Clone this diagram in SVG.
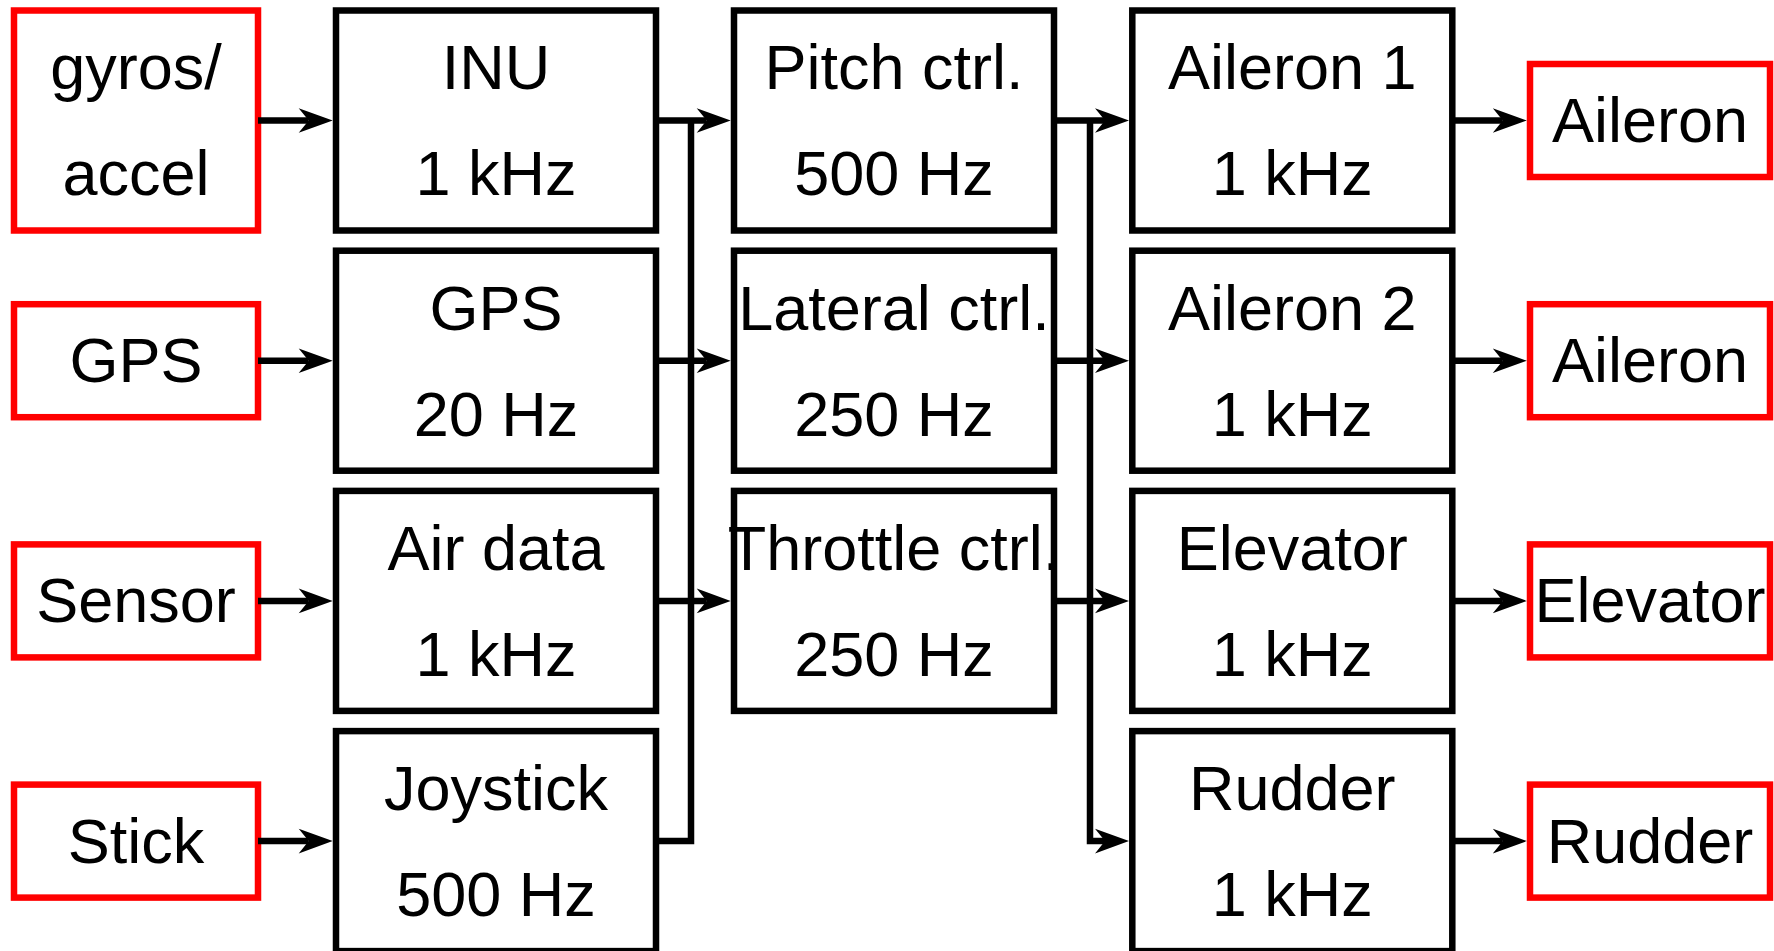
<svg xmlns="http://www.w3.org/2000/svg" width="1774" height="951" viewBox="0 0 1774 951">
<style>
.io{fill:#fff;stroke:#ff0000;stroke-width:6.5}
.blk{fill:#fff;stroke:#000;stroke-width:6.5}
.t{font-family:"Liberation Sans",Arial,sans-serif;font-size:63px;fill:#000;text-anchor:middle}
.c{fill:none;stroke:#000;stroke-width:6.5;stroke-linejoin:miter}
</style>
<defs>
<marker id="ah" markerUnits="userSpaceOnUse" markerWidth="40" markerHeight="30" refX="0" refY="0" orient="auto" overflow="visible">
<path d="M24,0 L-10,-12.3 L0,0 L-10,12.3 Z" fill="#000"/>
</marker>
</defs>
<rect width="1774" height="951" fill="#fff"/>

<g id="src-gyros"><rect class="io" x="14" y="10.5" width="244" height="220"/><text class="t" x="136" y="89.3">gyros/</text><text class="t" x="136" y="195.3">accel</text></g>
<g id="src-gps"><rect class="io" x="14" y="304.2" width="244" height="113"/><text class="t" x="136" y="382.2">GPS</text></g>
<g id="src-sensor"><rect class="io" x="14" y="544.4" width="244" height="113"/><text class="t" x="136" y="622.4">Sensor</text></g>
<g id="src-stick"><rect class="io" x="14" y="784.6" width="244" height="113"/><text class="t" x="136" y="862.6">Stick</text></g>

<g id="inu"><rect class="blk" x="336" y="10.5" width="320" height="220"/><text class="t" x="496" y="89.3">INU</text><text class="t" x="496" y="195.3">1 kHz</text></g>
<g id="gps"><rect class="blk" x="336" y="250.7" width="320" height="220"/><text class="t" x="496" y="329.5">GPS</text><text class="t" x="496" y="435.5">20 Hz</text></g>
<g id="airdata"><rect class="blk" x="336" y="490.9" width="320" height="220"/><text class="t" x="496" y="569.7">Air data</text><text class="t" x="496" y="675.7">1 kHz</text></g>
<g id="joystick"><rect class="blk" x="336" y="731.1" width="320" height="220"/><text class="t" x="496" y="809.9">Joystick</text><text class="t" x="496" y="915.9">500 Hz</text></g>

<g id="pitch"><rect class="blk" x="734" y="10.5" width="320" height="220"/><text class="t" x="894" y="89.3">Pitch ctrl.</text><text class="t" x="894" y="195.3">500 Hz</text></g>
<g id="lateral"><rect class="blk" x="734" y="250.7" width="320" height="220"/><text class="t" x="894" y="329.5">Lateral ctrl.</text><text class="t" x="894" y="435.5">250 Hz</text></g>
<g id="throttle"><rect class="blk" x="734" y="490.9" width="320" height="220"/><text class="t" x="894" y="569.7">Throttle ctrl.</text><text class="t" x="894" y="675.7">250 Hz</text></g>

<g id="aileron1"><rect class="blk" x="1132.3" y="10.5" width="320" height="220"/><text class="t" x="1292.3" y="89.3">Aileron 1</text><text class="t" x="1292.3" y="195.3">1 kHz</text></g>
<g id="aileron2"><rect class="blk" x="1132.3" y="250.7" width="320" height="220"/><text class="t" x="1292.3" y="329.5">Aileron 2</text><text class="t" x="1292.3" y="435.5">1 kHz</text></g>
<g id="elevator"><rect class="blk" x="1132.3" y="490.9" width="320" height="220"/><text class="t" x="1292.3" y="569.7">Elevator</text><text class="t" x="1292.3" y="675.7">1 kHz</text></g>
<g id="rudder"><rect class="blk" x="1132.3" y="731.1" width="320" height="220"/><text class="t" x="1292.3" y="809.9">Rudder</text><text class="t" x="1292.3" y="915.9">1 kHz</text></g>

<g id="act-aileron1"><rect class="io" x="1530" y="64" width="240" height="113"/><text class="t" x="1650" y="142">Aileron</text></g>
<g id="act-aileron2"><rect class="io" x="1530" y="304.2" width="240" height="113"/><text class="t" x="1650" y="382.2">Aileron</text></g>
<g id="act-elevator"><rect class="io" x="1530" y="544.4" width="240" height="113"/><text class="t" x="1650" y="622.4">Elevator</text></g>
<g id="act-rudder"><rect class="io" x="1530" y="784.6" width="240" height="113"/><text class="t" x="1650" y="862.6">Rudder</text></g>

<g id="connectors">
<path class="c" d="M258,120.5 H308.7" marker-end="url(#ah)"/>
<path class="c" d="M258,360.7 H308.7" marker-end="url(#ah)"/>
<path class="c" d="M258,600.9 H308.7" marker-end="url(#ah)"/>
<path class="c" d="M258,841.1 H308.7" marker-end="url(#ah)"/>

<path class="c" d="M656,841.1 H691 V120.5"/>
<path class="c" d="M656,120.5 H706.7" marker-end="url(#ah)"/>
<path class="c" d="M656,360.7 H706.7" marker-end="url(#ah)"/>
<path class="c" d="M656,600.9 H706.7" marker-end="url(#ah)"/>

<path class="c" d="M1054,120.5 H1105" marker-end="url(#ah)"/>
<path class="c" d="M1054,360.7 H1105" marker-end="url(#ah)"/>
<path class="c" d="M1054,600.9 H1105" marker-end="url(#ah)"/>
<path class="c" d="M1090,120.5 V841.1 H1105" marker-end="url(#ah)"/>

<path class="c" d="M1452.3,120.5 H1502.8" marker-end="url(#ah)"/>
<path class="c" d="M1452.3,360.7 H1502.8" marker-end="url(#ah)"/>
<path class="c" d="M1452.3,600.9 H1502.8" marker-end="url(#ah)"/>
<path class="c" d="M1452.3,841.1 H1502.8" marker-end="url(#ah)"/>
</g>
</svg>
